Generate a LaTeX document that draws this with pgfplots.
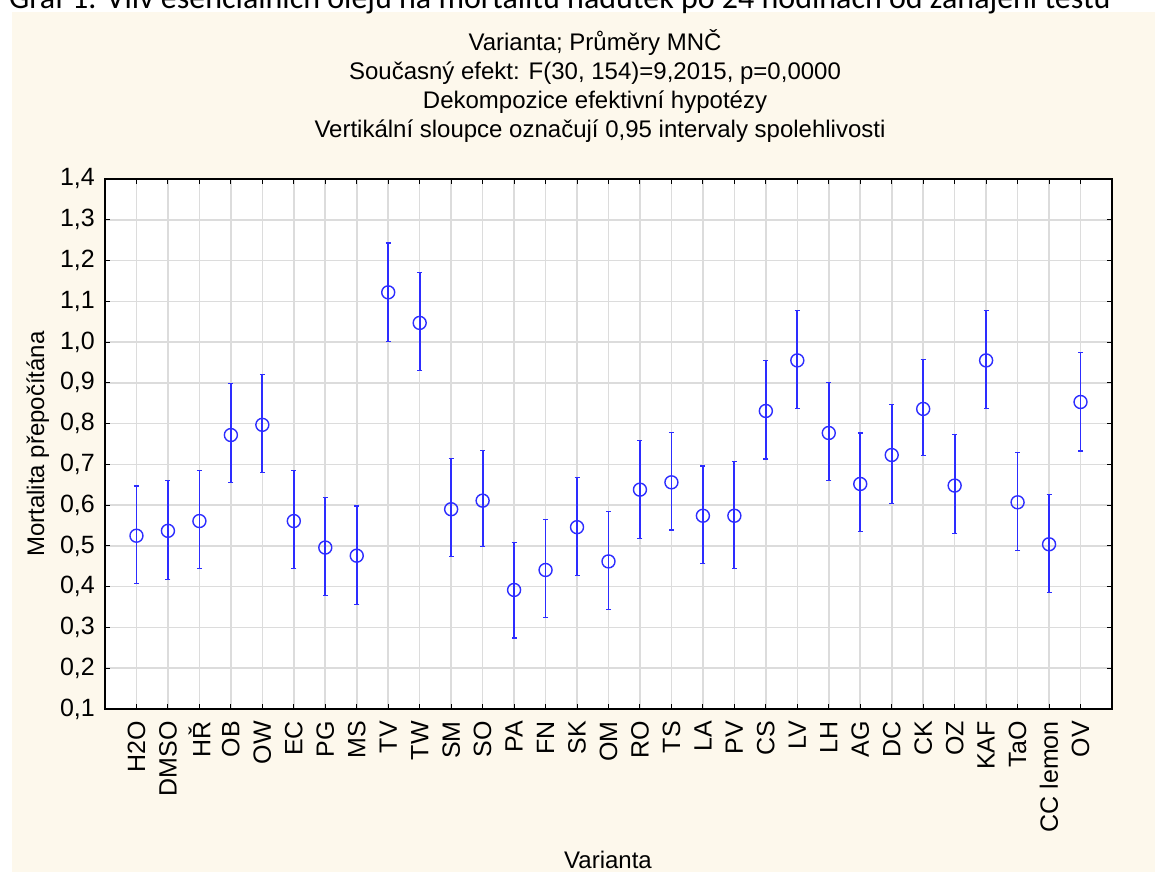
\documentclass[border=0pt]{standalone}
\usepackage{fontspec}
\setmainfont{Liberation Sans}
\newfontfamily\capfont{Carlito}
\usepackage{pgfplots}
\pgfplotsset{compat=1.18}
\usepackage{pgfplotstable}

\definecolor{bg}{RGB}{253,248,236}
\definecolor{mblue}{RGB}{45,45,255}
\definecolor{gridc}{RGB}{220,220,220}

\pgfplotstableread{
x y hi lo
1 0.525 0.647 0.407
2 0.537 0.660 0.418
3 0.561 0.685 0.444
4 0.772 0.898 0.655
5 0.797 0.921 0.681
6 0.561 0.685 0.444
7 0.496 0.619 0.378
8 0.476 0.598 0.357
9 1.122 1.243 1.001
10 1.047 1.171 0.930
11 0.590 0.714 0.474
12 0.611 0.734 0.498
13 0.392 0.509 0.274
14 0.441 0.564 0.324
15 0.546 0.668 0.427
16 0.462 0.584 0.345
17 0.638 0.758 0.518
18 0.656 0.779 0.539
19 0.574 0.696 0.456
20 0.574 0.707 0.444
21 0.831 0.955 0.713
22 0.955 1.078 0.838
23 0.777 0.901 0.660
24 0.652 0.777 0.535
25 0.723 0.846 0.605
26 0.836 0.958 0.722
27 0.648 0.773 0.531
28 0.955 1.078 0.838
29 0.607 0.729 0.489
30 0.504 0.627 0.386
31 0.853 0.974 0.733
}\data

\begin{document}
\begin{tikzpicture}[x=1pt,y=1pt]
\useasboundingbox (0,0) rectangle (1155,872);
\clip (0,0) rectangle (1155,872);
\fill[white] (0,0) rectangle (1155,872);
\fill[bg] (12,0) rectangle (1155,860);
\node[anchor=base, font=\capfont\fontsize{32}{34}\selectfont, inner sep=0pt] at (560,863) {Graf 1: Vliv esenciálních olejů na mortalitu nadutek po 24 hodinách od zahájení testu};
\begin{scope}[every node/.style={font=\fontsize{24}{26}\selectfont, inner sep=0pt}]
\node[anchor=base] at (595,821) {Varianta; Průměry MNČ};
\node[anchor=base] at (595,792) {Současný efekt: F(30, 154)=9,2015, p=0,0000};
\node[anchor=base] at (595,763) {Dekompozice efektivní hypotézy};
\node[anchor=base] at (600,734) {Vertikální sloupce označují 0,95 intervaly spolehlivosti};
\node[anchor=base] at (608,4) {Varianta};
\node[anchor=base, rotate=90] at (44,428) {Mortalita přepočítána};
\end{scope}
\begin{axis}[
  at={(105pt,163pt)}, anchor=south west,
  scale only axis, width=1007pt, height=530pt,
  xmin=0, xmax=32, ymin=0.1, ymax=1.4,
  xtick={1,...,31},
  xticklabels={H2O,DMSO,HŘ,OB,OW,EC,PG,MS,TV,TW,SM,SO,PA,FN,SK,OM,RO,TS,LA,PV,CS,LV,LH,AG,DC,CK,OZ,KAF,TaO,CC lemon,OV},
  ytick={0.1,0.2,0.3,0.4,0.5,0.6,0.7,0.8,0.9,1.0,1.1,1.2,1.3,1.4},
  axis background/.style={fill=white},
  grid=major, grid style={gridc, line width=1.6pt},
  axis line style={black, line width=1.3pt},
  tick align=inside, major tick length=5pt,
  tick style={black, line width=1pt},
  xticklabel style={rotate=90, anchor=east, font=\fontsize{25}{27}\selectfont, inner xsep=12pt, inner ysep=0pt},
  yticklabel style={font=\fontsize{25}{27}\selectfont, inner xsep=10pt, inner ysep=0pt},
  /pgf/number format/assume math mode=true,
  yticklabel={\pgfmathprintnumber[use comma, fixed, fixed zerofill, precision=1]{\tick}},
]
\addplot[mblue, only marks, mark=o, mark size=6.5pt, mark options={line width=1.4pt},
  error bars/.cd, y dir=both, y explicit,
  error bar style={line width=1.8pt, mblue},
  error mark options={rotate=90, mark size=2.5pt, line width=1.2pt, mblue}]
  table[x=x, y=y, y error plus expr=\thisrow{hi}-\thisrow{y}, y error minus expr=\thisrow{y}-\thisrow{lo}] \data;
\end{axis}
\end{tikzpicture}
\end{document}
